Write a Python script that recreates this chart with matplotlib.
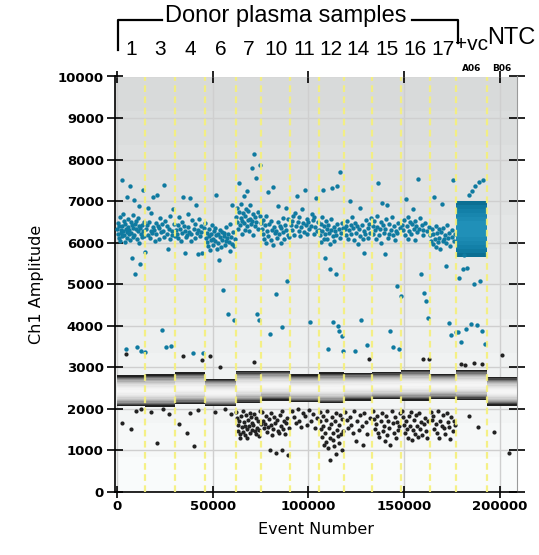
import matplotlib.pyplot as plt
import numpy as np
from matplotlib.lines import Line2D

# well boundaries (event number) and well names
edges = [0, 14900, 30540, 46170, 62000, 75460, 90320, 105490, 118630,
         133130, 148650, 163300, 177280, 193170, 209000]
wells = ['1', '3', '4', '6', '7', '10', '11', '12', '14', '15', '16', '17', '+vc', 'NTC']

# negative droplet band per well (Ch1 amplitude)
neg_lo = [2060, 2050, 2110, 2060, 2140, 2200, 2160, 2130, 2200, 2230, 2200, 2250, 2220, 2080]
neg_hi = [2810, 2830, 2880, 2730, 2910, 2920, 2830, 2880, 2860, 2880, 2940, 2830, 2940, 2760]

# dense positive cloud of the +vc well
vc_lo, vc_hi = 5650, 7000

# positive droplets per well, in event order
pos_1 = [6340, 6210, 6480, 6120, 6390, 6620, 6050, 6300, 6230, 7500, 6410, 6150, 6290, 6700,
         6180, 6520, 6020, 6440, 3430, 6330, 6260, 7100, 6110, 6580, 6370, 6200, 6310, 7360,
         6060, 6490, 6240, 5640, 6420, 6350, 6140, 6660, 7020, 6190, 6450, 5240, 6320, 6530,
         6090, 3480, 6270, 6600, 6400, 6000, 6880, 6360, 5480, 6220, 3400, 6430, 6130, 6280,
         7260, 6510, 6170, 5780, 3380]
pos_3 = [6330, 6420, 6180, 6840, 6510, 6120, 6290, 6720, 6230, 6380, 7100, 6310, 6040, 6470,
         6200, 7160, 6400, 6090, 6350, 6600, 6250, 3900, 6440, 6270, 7380, 6140, 6530, 3480,
         6210, 6390, 5840, 6320, 6100, 6640, 3510, 6280, 6190, 6800, 6460, 6150]
pos_4 = [6310, 6220, 6430, 6110, 6620, 6340, 6030, 6500, 6240, 7100, 6410, 6280, 5760, 6130,
         6190, 6680, 6370, 6260, 7080, 6050, 6210, 6540, 3350, 6330, 6120, 6450, 6900, 6230,
         5740, 6300, 6580, 6160, 6390, 6250, 5760, 3350, 6350, 6480]
pos_6 = [6120, 6010, 6240, 5920, 6330, 6150, 5830, 6210, 6060, 6420, 6100, 5950, 6270, 6360,
         6030, 7160, 6180, 5860, 6220, 6000, 5580, 6140, 6300, 5900, 6250, 6070, 4860, 6160,
         6230, 5940, 6380, 6040, 6110, 4280, 6200, 6020, 5800, 6450, 6130, 5980, 6900, 6260,
         5910, 4140, 6090]
pos_7 = [6620, 6510, 6830, 6340, 6740, 7440, 6420, 6600, 6940, 6530, 6200, 6710, 7120, 6480,
         6300, 6650, 6820, 6390, 7240, 6550, 6760, 6280, 6900, 6580, 6450, 7800, 6520, 6180,
         6690, 8140, 6610, 6400, 7560, 6500, 4280, 6730, 6320, 4140, 6640, 7880, 6470]
pos_10 = [6330, 6200, 6540, 6100, 6420, 6000, 6640, 6280, 7220, 6160, 6450, 3800, 6070, 6520,
          6310, 5950, 7340, 6380, 6230, 4760, 6290, 6120, 6500, 6880, 6210, 6400, 5990, 6350,
          3980, 6600, 6250, 6080, 6430, 6840, 6300, 5080, 6190, 6560, 6140]
pos_11 = [6420, 6530, 6300, 6640, 6180, 6720, 6400, 7120, 6510, 6280, 6620, 6150, 6380, 6800,
          6470, 6250, 7280, 6430, 6580, 6200, 6490, 6330, 4080, 6410, 6690, 6540, 6220, 6610,
          6370, 7080, 6290, 6500]
pos_12 = [6310, 6180, 6450, 6020, 6630, 6290, 7280, 6100, 6400, 6210, 5640, 6530, 6340, 6080,
          3450, 6420, 6230, 5960, 5360, 6300, 6560, 7320, 6150, 4080, 6380, 6050, 6270, 5240,
          6190, 7360, 6440, 4000, 6320, 3880, 6110, 7700, 6240, 3760, 6470, 3400, 6360]
pos_14 = [6320, 6410, 6180, 6520, 6090, 6300, 7000, 6430, 6200, 6620, 6350, 6060, 6480, 3390,
          6240, 6400, 5980, 6330, 6840, 6150, 4140, 6420, 6100, 6270, 5760, 6210, 6540, 3540,
          6360, 6120, 6450, 6230, 6600]
pos_15 = [6410, 6220, 6530, 6300, 6080, 6640, 6380, 7440, 6190, 6330, 6500, 5990, 6960, 6420,
          6240, 5720, 6340, 6560, 6900, 6120, 6450, 6210, 3880, 6310, 6620, 6180, 3500, 6390,
          6060, 6280, 4960, 6230, 6480, 3450, 6350, 4720]
pos_16 = [6420, 6300, 6550, 6180, 7060, 6390, 6100, 6620, 6280, 6510, 6200, 6440, 6800, 6330,
          6070, 6530, 6400, 6250, 7540, 6340, 6600, 5240, 6430, 6190, 6310, 4800, 6480, 4600,
          6270, 4190, 6380]
pos_17 = [6180, 6050, 6320, 5980, 6210, 7100, 6090, 6400, 5900, 6240, 6010, 6330, 6120, 5840,
          6260, 6920, 6030, 6350, 6080, 6190, 5440, 6000, 6420, 6110, 4060, 6230, 5920, 3770,
          6140, 6300, 7500, 6040, 6200, 3850]
pos_vc = [3850, 5140, 3600, 5360, 5700, 3920, 5400, 7160, 4050, 7240, 5000, 7360, 4030, 7460,
          5080, 3870, 7520, 3560]
pos_ntc = []

# black droplets outside the negative band
rain_1 = [1660, 3330, 1510, 1940, 2000]
rain_3 = [1920, 1180, 1990, 1880]
rain_4 = [1630, 3270, 1420, 1900, 1100, 1980, 3180]
rain_6 = [3270, 1930, 3000, 1990, 1870]
rain_7 = [1930, 1780, 1620, 1480, 1700, 1390, 1310, 1820, 1560, 1450, 1960, 1690, 1370, 1600,
          1850, 1520, 1290, 1740, 1580, 1900, 1420, 1800, 1500, 1660, 1610, 3120, 1880, 1470,
          1400, 1790, 1540, 1720, 1340, 1490, 1950, 1630]
rain_10 = [1920, 1710, 1530, 1640, 1830, 1450, 1560, 1750, 1010, 1620, 1900, 1380, 1520, 1810,
           1660, 930, 1730, 1480, 1420, 1850, 1590, 1020, 1940, 1510, 1700, 1400, 1650, 1790,
           890, 1550]
rain_11 = [1940, 1810, 1650, 2000, 1720, 1560, 1900, 1830, 1610, 1980, 1700, 1880, 1530, 1790]
rain_12 = [1930, 1720, 1510, 1320, 1840, 1600, 1120, 1430, 1210, 1740, 1950, 1050, 1530, 1300,
           780, 1640, 1810, 1250, 1420, 1100, 1700, 1900, 910, 1500, 1350, 1620, 1180, 1850,
           1400, 1000, 1760, 1480]
rain_14 = [1920, 1730, 1540, 1810, 1620, 1430, 1960, 1230, 1700, 1500, 1850, 1580, 1140, 1900,
           1680, 1390, 3190, 1790]
rain_15 = [1940, 1750, 1520, 1630, 1820, 1410, 1320, 1700, 1890, 1480, 1600, 1230, 1840, 1380,
           1720, 1530, 1140, 1950, 1650, 1420, 1800, 1290, 1680, 1500, 1580, 1910]
rain_16 = [1950, 1800, 1620, 1430, 1710, 1520, 1310, 1830, 1580, 1920, 1260, 1490, 1740, 1400,
           1850, 1600, 1330, 1900, 1510, 1690, 1380, 3190, 1640, 1780, 1470, 1290, 1720, 3190]
rain_17 = [1920, 1740, 1830, 1510, 1640, 1420, 1950, 1300, 1720, 1600, 1860, 1530, 1390, 1900,
           1680, 1570, 1280, 1800, 1480, 1710, 1620]
rain_vc = [3090, 3050, 1840, 3110, 1560, 3080]
rain_ntc = [1450, 3300, 950]

pos = [pos_1, pos_3, pos_4, pos_6, pos_7, pos_10, pos_11, pos_12, pos_14, pos_15, pos_16,
       pos_17, pos_vc, pos_ntc]
rain = [rain_1, rain_3, rain_4, rain_6, rain_7, rain_10, rain_11, rain_12, rain_14, rain_15,
        rain_16, rain_17, rain_vc, rain_ntc]

W, H = 539, 555
fig = plt.figure(figsize=(W / 100, H / 100), dpi=100)
ax = fig.add_axes([115 / W, 1 - 492 / H, 402 / W, 415.5 / H])
ax.set_xlim(-1000, 209000)
ax.set_ylim(0, 10000)

# stepped grey background
steps = np.linspace(0.98, 0.85, 12)[:, None]
ax.imshow(np.dstack([steps, steps + 0.007, steps + 0.007]).clip(0, 1),
          extent=(-1000, 209000, 0, 10000), origin='lower', aspect='auto', zorder=0,
          interpolation='nearest')

ax.set_xticks(np.arange(0, 200001, 50000))
ax.set_yticks(np.arange(0, 10001, 1000))
ax.grid(True, color='#cfcfcf', lw=1.0, zorder=1)
ax.set_axisbelow(True)

# negative bands with grey shading
shades = [0.13, 0.28, 0.45, 0.58, 0.68, 0.76, 0.82, 0.87, 0.9, 0.93, 0.95, 0.96]
blues = ['#0b6f93', '#0f7aa0', '#1380a8', '#1886ae', '#1c8bb3', '#2090b8']
for i in range(len(wells)):
    x0, x1 = edges[i], edges[i + 1]
    lo, hi = neg_lo[i], neg_hi[i]
    half = (hi - lo) / 2
    for k, g in enumerate(shades):
        d = half * k / len(shades)
        ax.fill_between([x0, x1], lo + d, hi - d, color=str(g), lw=0, zorder=2)
    if wells[i] == '+vc':
        half = (vc_hi - vc_lo) / 2
        for k, c in enumerate(blues):
            d = half * k / (len(blues) + 1)
            ax.fill_between([x0, x1], vc_lo + d, vc_hi - d, color=c, lw=0, zorder=2)

# individual droplets, spread in event order across each well
for i in range(len(wells)):
    x0, x1 = edges[i], edges[i + 1]
    if len(rain[i]):
        xs = np.linspace(x0, x1, len(rain[i]) + 2)[1:-1]
        ax.scatter(xs, rain[i], s=9, color='#222222', lw=0, zorder=3)
    if len(pos[i]):
        xs = np.linspace(x0, x1, len(pos[i]) + 2)[1:-1]
        ax.scatter(xs, pos[i], s=10, color='#0f7aa0', lw=0, zorder=4)

# yellow well separators
for e in edges[1:-1]:
    ax.axvline(e, color='#f5f07a', lw=1.6, ls=(0, (3, 2)), alpha=0.9, zorder=5)

ax.spines['top'].set_visible(False)
ax.spines['right'].set_color('#9a9a9a')
ax.spines['left'].set_linewidth(1.2)
ax.spines['bottom'].set_linewidth(1.2)
ax.tick_params(axis='both', direction='inout', length=12, width=1.2, labelsize=9.5, pad=2)
ax.tick_params(axis='x', top=True, length=8)
ax.tick_params(axis='y', right=True)
for lab in ax.get_xticklabels() + ax.get_yticklabels():
    lab.set_fontweight('bold')
ax.set_xlabel('Event Number', fontsize=11.5, labelpad=6)
ax.set_ylabel('Ch1 Amplitude', fontsize=11.5, labelpad=10)

# sample labels above the wells
tr = ax.get_xaxis_transform()
for i, w in enumerate(wells[:-2]):
    ax.text((edges[i] + edges[i + 1]) / 2, 1.066, w, transform=tr, ha='center', va='center',
            fontsize=15, family='Liberation Sans')
ax.text((edges[12] + edges[13]) / 2, 1.078, '+vc', transform=tr, ha='center', va='center',
        fontsize=15, family='Liberation Sans')
ax.text(209000 * 0.985, 1.092, 'NTC', transform=tr, ha='center', va='center',
        fontsize=17, family='Liberation Sans')
ax.text((edges[12] + edges[13]) / 2, 1.02, 'A06', transform=tr, ha='center', va='center',
        fontsize=6.5, fontweight='bold')
ax.text((edges[13] + edges[14]) / 2, 1.02, 'B06', transform=tr, ha='center', va='center',
        fontsize=6.5, fontweight='bold')

fig.text(286 / W, 1 - 16 / H, 'Donor plasma samples', ha='center', va='center',
         fontsize=17, family='Liberation Sans')
bracket = [([118, 118, 162], [50, 20, 20]), ([412, 458, 458], [20, 20, 43])]
for bx, by in bracket:
    fig.add_artist(Line2D(np.array(bx) / W, 1 - np.array(by) / H, color='black', lw=1.6,
                          transform=fig.transFigure))

fig.savefig('out.png', dpi=100)
